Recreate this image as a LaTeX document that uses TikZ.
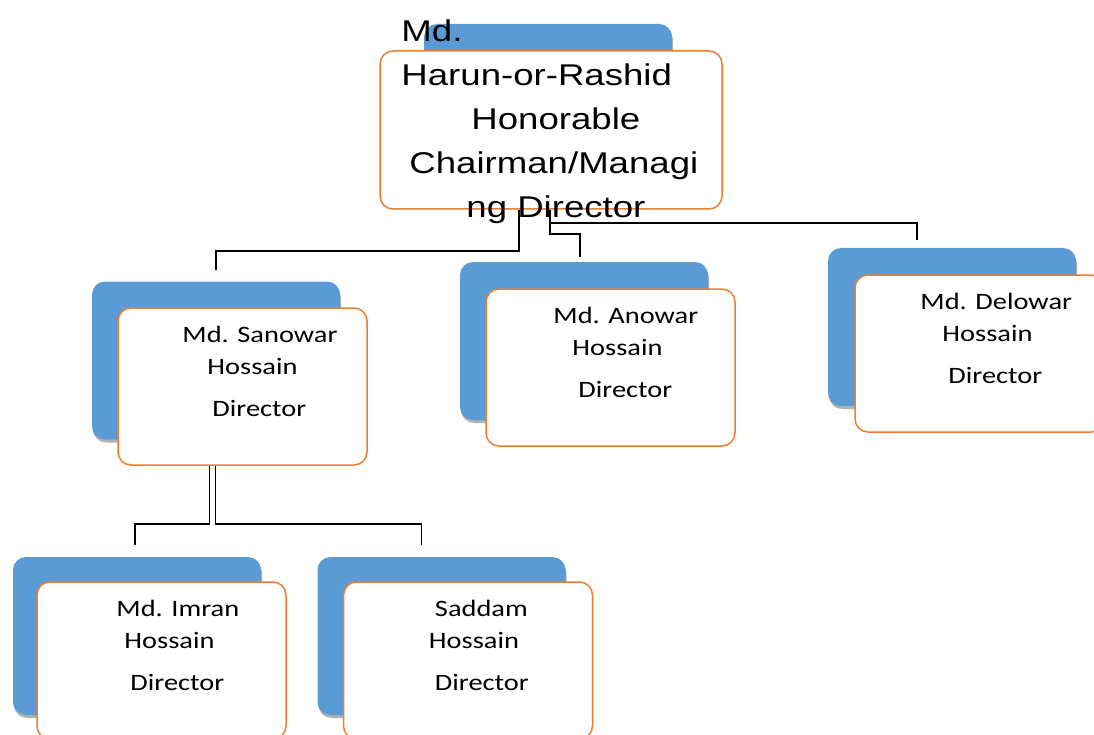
\documentclass[tikz,border=0pt]{standalone}
\usepackage{fontspec}
\usepackage{tikz}
\usetikzlibrary{shadows}
\newfontfamily\arialfont[FakeStretch=1.22]{Liberation Sans}
\newfontfamily\calibrifont[FakeStretch=1.21]{Carlito}
\definecolor{boxblue}{HTML}{5B9BD5}
\definecolor{boxorange}{HTML}{ED7D31}
\tikzset{
  backbox/.style={rectangle, rounded corners=13pt, fill=boxblue, inner sep=0pt,
    minimum width=248pt, minimum height=158pt,
    drop shadow={shadow xshift=1pt, shadow yshift=-3pt, opacity=0.3, fill=black}},
  frontbox/.style={rectangle, rounded corners=13pt, draw=boxorange, line width=1.5pt,
    fill=white, inner sep=0pt, minimum width=249pt, minimum height=157pt},
  nametext/.style={anchor=north west, align=left, inner sep=0pt,
    font=\calibrifont\fontsize{23.5}{32}\selectfont},
  link/.style={draw=black, line width=1.8pt}
}
\begin{document}
\begin{tikzpicture}[x=1pt, y=1pt]
    \useasboundingbox (0,0) rectangle (1094,-735);
    \clip (0,0) rectangle (1094,-735);
    % Back cards
    \node[backbox] (chairbk) at (548,-103) {};
    \node[backbox] (sanowarbk) at (216,-360.5) {};
    \node[backbox] (anowarbk) at (584,-341) {};
    \node[backbox] (delowarbk) at (952,-327) {};
    \node[backbox] (imranbk) at (137,-636) {};
    \node[backbox] (saddambk) at (441.5,-636) {};
    % Front cards
    \node[frontbox, minimum width=342pt, minimum height=158pt] (chair) at (551,-130) {};
    \node[frontbox] (sanowar) at (242.5,-386.5) {};
    \node[frontbox] (anowar) at (610.5,-367.5) {};
    \node[frontbox] (delowar) at (979.5,-353.5) {};
    \node[frontbox] (imran) at (161.5,-660.5) {};
    \node[frontbox] (saddam) at (468,-660.5) {};
    % Connectors
    \draw[link] ([xshift=-32pt]chair.south) -- ++(0,-41) -| ([yshift=11pt]sanowarbk.north);
    \draw[link] ([xshift=-1pt]chair.south) -- ++(0,-24) -| ([xshift=-4pt,yshift=5pt]anowarbk.north);
    \draw[link] ([xshift=-1pt,yshift=-13pt]chair.south) -| ([xshift=-35pt,yshift=8pt]delowarbk.north);
    \draw[link] ([xshift=-33pt]sanowar.south) -- ++(0,-58) -| ([xshift=-2pt,yshift=12pt]imranbk.north);
    \draw[link] ([xshift=-27pt]sanowar.south) -- ++(0,-58) -| ([xshift=-20pt,yshift=12pt]saddambk.north);
    % Names
    \node[anchor=north west, align=left, inner sep=0pt, font=\arialfont\fontsize{30}{44}\selectfont]
      (chairtxt) at ([xshift=22pt,yshift=31pt]chair.north west)
      {Md.\\ Harun-or-Rashid\\ \hspace*{70pt}Honorable\\ \hspace*{8pt}Chairman/Managi\\ \hspace*{65pt}ng Director};
    \node[nametext] (sanowartxt) at ([xshift=65pt,yshift=-19pt]sanowar.north west)
      {Md. Sanowar\\ \hspace*{25pt}Hossain\\[10pt] \hspace*{30pt}Director};
    \node[nametext] (anowartxt) at ([xshift=68pt,yshift=-19pt]anowar.north west)
      {Md. Anowar\\ \hspace*{19pt}Hossain\\[10pt] \hspace*{25pt}Director};
    \node[nametext] (delowartxt) at ([xshift=66pt,yshift=-19pt]delowar.north west)
      {Md. Delowar\\ \hspace*{22pt}Hossain\\[10pt] \hspace*{28pt}Director};
    \node[nametext] (imrantxt) at ([xshift=80pt,yshift=-19pt]imran.north west)
      {Md. Imran\\ \hspace*{8pt}Hossain\\[10pt] \hspace*{14pt}Director};
    \node[nametext] (saddamtxt) at ([xshift=86pt,yshift=-19pt]saddam.north west)
      {\hspace*{6pt}Saddam\\ Hossain\\[10pt] \hspace*{6pt}Director};
\end{tikzpicture}
\end{document}
